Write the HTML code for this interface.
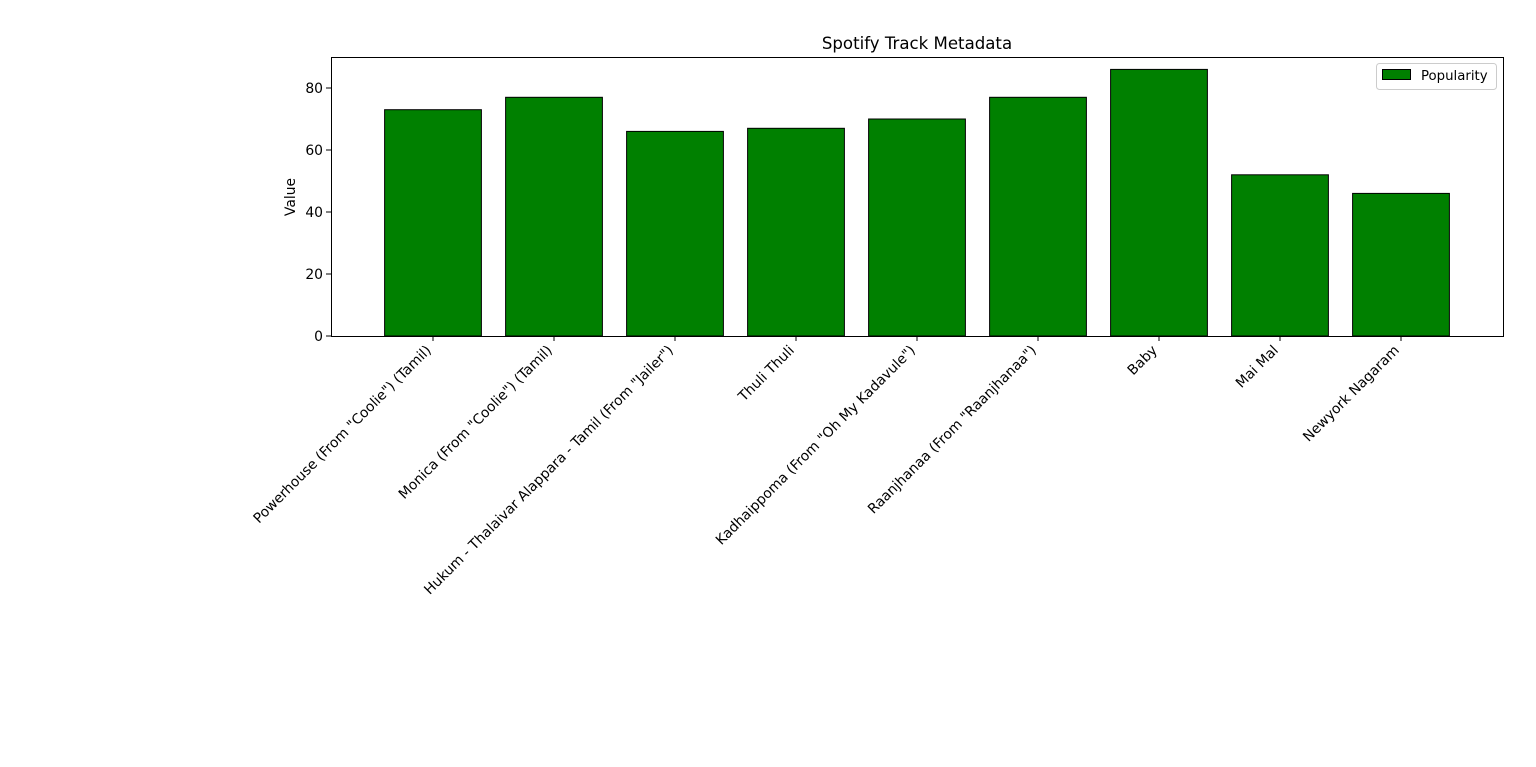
<!DOCTYPE html>
<html><head><meta charset="utf-8"><style>
html,body{margin:0;padding:0;background:#fff;}
svg text{font-family:"DejaVu Sans","Liberation Sans",sans-serif;fill:#000;}
</style></head><body>
<svg id="chart" width="1536" height="762" xmlns="http://www.w3.org/2000/svg">
<rect width="1536" height="762" fill="#fff"/>
<g id="bars"></g>
<g id="xaxis"></g>
<g id="yaxis"></g>
<rect x="331.5" y="57.5" width="1172" height="279" fill="none" stroke="#000" stroke-width="1"/>
<text x="917" y="49" font-size="16.6" text-anchor="middle">Spotify Track Metadata</text>
<text transform="translate(295,197) rotate(-90)" font-size="13.9" text-anchor="middle">Value</text>
<g>
<rect x="1376.5" y="63.5" width="120" height="26" rx="3" fill="#fff" stroke="#ccc"/>
<rect x="1382.5" y="69.5" width="28" height="10" fill="#008000" stroke="#000"/>
<text x="1421" y="80" font-size="13.3">Popularity</text>
</g>
</svg>
<script>
const categories = ['Powerhouse (From "Coolie") (Tamil)','Monica (From "Coolie") (Tamil)','Hukum - Thalaivar Alappara - Tamil (From "Jailer")','Thuli Thuli','Kadhaippoma (From "Oh My Kadavule")','Raanjhanaa (From "Raanjhanaa")','Baby','Mai Mal','Newyork Nagaram'];
const popularity = [73,77,66,67,70,77,86,52,46];
const yTicks = [0,20,40,60,80];
const NS='http://www.w3.org/2000/svg';
const L=331,R=1503,T=57,B=336;
const xmin=-0.843,xmax=categories.length-1+0.843,ymax=90;
const xs=i=>L+(i-xmin)/(xmax-xmin)*(R-L);
const ys=v=>B-v/ymax*(B-T);
function mk(tag,attrs,parent){const e=document.createElementNS(NS,tag);for(const k in attrs)e.setAttribute(k,attrs[k]);parent.appendChild(e);return e;}
const bars=document.getElementById('bars'),xa=document.getElementById('xaxis'),ya=document.getElementById('yaxis');
const bw=(R-L)/(xmax-xmin)*0.8;
popularity.forEach((v,i)=>{
  const r=mk('rect',{x:xs(i)-bw/2,y:ys(v),width:bw,height:ys(0)-ys(v),fill:'#008000',stroke:'#000','stroke-width':1},bars);
  
  
});
categories.forEach((c,i)=>{
  const x=xs(i);
  const t=mk('line',{x1:x,x2:x,y1:B,y2:B+5,stroke:'#000'},xa);
  
  
  const tx=mk('text',{transform:`translate(${x-1},${B+15}) rotate(-45)`,'font-size':13.9,'text-anchor':'end'},xa);
  tx.textContent=c;
  
  
});
yTicks.forEach(v=>{
  const y=ys(v);
  const t=mk('line',{x1:L-5,x2:L,y1:y,y2:y,stroke:'#000'},ya);
  
  
  const tx=mk('text',{x:L-8,y:y+5,'font-size':13.9,'text-anchor':'end'},ya);
  tx.textContent=v;
  
  
});
</script>
</body></html>
